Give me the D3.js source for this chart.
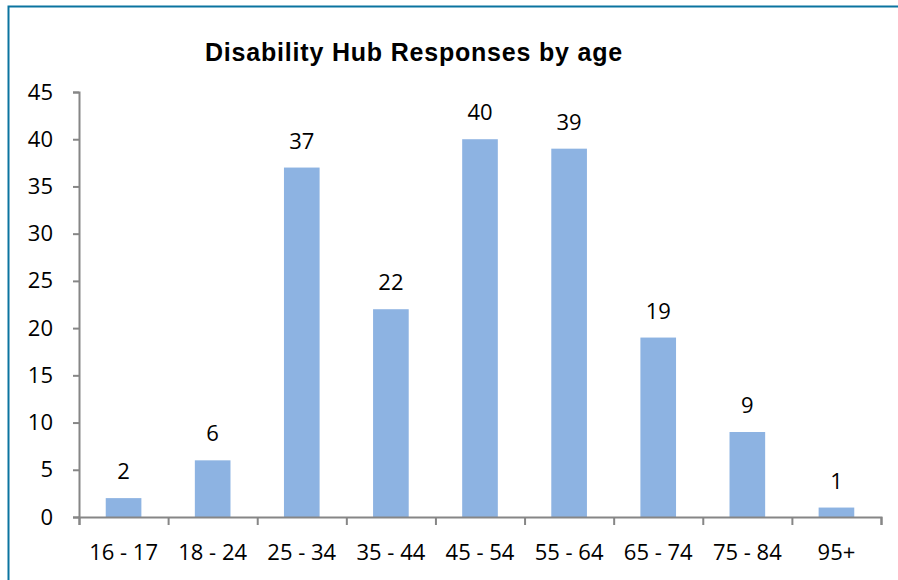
<!DOCTYPE html>
<html>
<head>
<meta charset="utf-8">
<script src="https://cdn.jsdelivr.net/npm/d3@7"></script>
<style>
  body { margin: 0; background: #fff; }
  svg { display: block; }
</style>
</head>
<body>
<div id="chart"></div>
<script>
const categories = ['16 - 17', '18 - 24', '25 - 34', '35 - 44', '45 - 54', '55 - 64', '65 - 74', '75 - 84', '95+'];
const responses = [2, 6, 37, 22, 40, 39, 19, 9, 1];
const yTicks = [0, 5, 10, 15, 20, 25, 30, 35, 40, 45];

const w = 898;
const h = 580;
const plotLeft = 79, plotRight = 881, plotTop = 92, plotBottom = 517;
const font = "'Open Sans', 'Noto Sans', sans-serif";
const fontSize = '22px';

const svg = d3.select('#chart')
  .append('svg')
  .attr('width', w)
  .attr('height', h);

// outer frame
svg.append('path')
  .attr('d', `M8.5,${h} V6.5 H${w}`)
  .attr('fill', 'none')
  .attr('stroke', '#0B74A0')
  .attr('stroke-width', 2);

svg.append('text')
  .attr('x', 414)
  .attr('y', 61)
  .attr('text-anchor', 'middle')
  .style('font-family', "'Liberation Sans', Arial, sans-serif")
  .style('font-weight', 'bold')
  .style('font-size', '25px')
  .style('letter-spacing', '0.8px')
  .text('Disability Hub Responses by age');

const xScale = d3.scaleBand()
  .domain(categories)
  .range([plotLeft, plotRight])
  .paddingInner(0.6)
  .paddingOuter(0.3);

const xEdge = d3.scaleLinear()
  .domain([0, categories.length])
  .range([plotLeft, plotRight]);

const yScale = d3.scaleLinear()
  .domain([0, 45])
  .range([plotBottom, plotTop]);

const axisColor = '#868686';

// y axis
const yAxis = svg.append('g')
  .attr('transform', `translate(${plotLeft},0)`)
  .call(d3.axisLeft(yScale).tickValues(yTicks).tickSize(6).tickPadding(20));
yAxis.select('.domain').attr('stroke', axisColor).attr('stroke-width', 2);
yAxis.selectAll('.tick line').attr('stroke', axisColor).attr('stroke-width', 2);
yAxis.selectAll('text')
  .style('font-family', font)
  .style('font-size', fontSize)
  .attr('fill', '#000');

svg.selectAll('rect.bar')
  .data(responses)
  .enter()
  .append('rect')
  .attr('class', 'bar')
  .attr('x', (d, i) => xScale(categories[i]))
  .attr('y', d => yScale(d))
  .attr('width', xScale.bandwidth())
  .attr('height', d => plotBottom - yScale(d))
  .attr('fill', '#8DB3E2');

// x axis
const xAxis = svg.append('g')
  .attr('transform', `translate(0,${plotBottom})`)
  .call(d3.axisBottom(xEdge).ticks(categories.length).tickSize(8).tickFormat(''));
xAxis.select('.domain').attr('stroke', axisColor).attr('stroke-width', 2);
xAxis.selectAll('.tick line').attr('stroke', axisColor).attr('stroke-width', 2);

svg.selectAll('text.cat')
  .data(categories)
  .enter()
  .append('text')
  .attr('class', 'cat')
  .attr('x', d => xScale(d) + xScale.bandwidth() / 2)
  .attr('y', 560)
  .attr('text-anchor', 'middle')
  .style('font-family', font)
  .style('font-size', fontSize)
  .text(d => d);

svg.selectAll('text.val')
  .data(responses)
  .enter()
  .append('text')
  .attr('class', 'val')
  .attr('x', (d, i) => xScale(categories[i]) + xScale.bandwidth() / 2)
  .attr('y', d => yScale(d) - 19)
  .attr('text-anchor', 'middle')
  .style('font-family', font)
  .style('font-size', fontSize)
  .text(d => d);
</script>
</body>
</html>
